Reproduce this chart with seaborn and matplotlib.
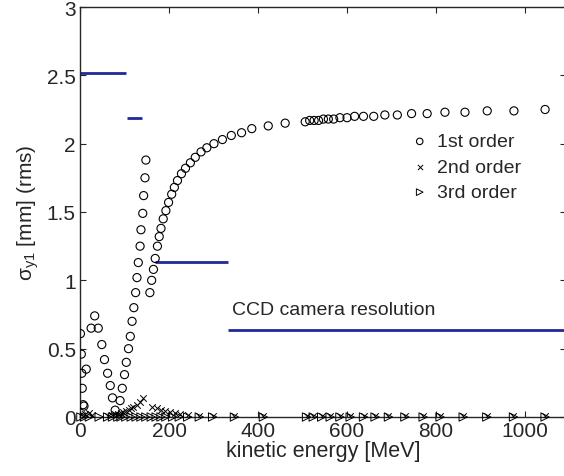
import numpy as np
import pandas as pd
import matplotlib
matplotlib.use("Agg")
import matplotlib.pyplot as plt
import seaborn as sns
from matplotlib.ticker import FormatStrFormatter

# ---------------- data ----------------
# 1st order
x1 = [1, 3, 4, 5, 7, 9, 14, 25, 33, 41, 49, 55, 62, 68, 73, 79,
      90, 95, 100, 104, 109, 113, 117, 121, 125, 128, 131, 135, 137, 141, 143, 146, 148,
      157, 161, 165, 169, 174, 178, 182, 187, 193, 199, 206, 212, 219, 228, 237, 248,
      259, 272, 285, 301, 320, 340, 363, 386, 423, 461,
      506, 516, 526, 536, 547, 558, 570, 584, 600, 617, 637, 660, 685, 713, 745,
      780, 820, 865, 915, 975, 1045]
y1 = [0.61, 0.46, 0.32, 0.21, 0.09, 0.08, 0.35, 0.65, 0.74, 0.65, 0.53, 0.42, 0.32, 0.23, 0.14, 0.05,
      0.12, 0.21, 0.31, 0.40, 0.50, 0.59, 0.70, 0.80, 0.91, 1.02, 1.13, 1.25, 1.37, 1.49, 1.62, 1.75, 1.88,
      0.91, 1.00, 1.08, 1.16, 1.25, 1.32, 1.38, 1.45, 1.51, 1.57, 1.63, 1.68, 1.73, 1.78, 1.82, 1.86,
      1.90, 1.94, 1.97, 2.00, 2.03, 2.06, 2.08, 2.11, 2.13, 2.15,
      2.16, 2.17, 2.17, 2.17, 2.18, 2.18, 2.18, 2.19, 2.19, 2.20, 2.20, 2.20, 2.21, 2.21, 2.22,
      2.22, 2.23, 2.23, 2.24, 2.24, 2.25]

# 3rd order (all on the axis)
x3 = [2, 10, 21, 43, 62, 73, 85, 92, 103, 115, 126, 137, 148, 160, 171, 182, 193,
      208, 223, 242, 268, 298, 347, 412, 509, 524, 543, 562, 584, 607, 637, 663,
      693, 730, 771, 809, 861, 914, 974, 1045]
y3 = [0.0] * len(x3)

# 2nd order
x2 = [3, 11, 21, 28, 62, 73, 79, 85, 92, 97, 103, 109, 115, 118, 127, 135, 142,
      161, 172, 181, 191, 202, 213, 225, 242, 268, 298, 347, 412,
      509, 524, 543, 562, 584, 607, 637, 663, 693, 730, 771, 809, 861, 914, 974, 1045]
y2 = [0.02, 0.02, 0.027, 0.015, 0.01, 0.015, 0.02, 0.025, 0.03, 0.034, 0.045, 0.053, 0.065, 0.071, 0.09, 0.107, 0.137,
      0.071, 0.064, 0.053, 0.046, 0.039, 0.03, 0.022, 0.015, 0.01, 0.008, 0.006, 0.005,
      0.004, 0.004, 0.004, 0.004, 0.004, 0.004, 0.004, 0.004, 0.004, 0.004, 0.004, 0.004, 0.004, 0.004, 0.004, 0.004]

# CCD camera resolution steps
res_y = [2.52, 2.19, 1.136, 0.636]
res_x0 = [0, 105, 169, 333]
res_x1 = [103, 139, 333, 1100]

# ---------------- plot ----------------
sns.set_style("ticks", {"xtick.direction": "in", "ytick.direction": "in"})
plt.rcParams["font.family"] = ["Liberation Sans", "DejaVu Sans"]

fig = plt.figure(figsize=(5.64, 4.77), dpi=100)
ax = fig.add_axes([80 / 564, 59 / 477, 486 / 564, 410 / 477])

ax.hlines(res_y, res_x0, res_x1, color="#23289a", linewidth=2.0, zorder=2)

sns.scatterplot(x=x1, y=y1, ax=ax, marker="o", s=34, facecolor="none",
                edgecolor="black", linewidth=0.8, label="1st order", zorder=3)
sns.scatterplot(x=x2, y=y2, ax=ax, marker="x", s=22, color="black",
                linewidth=0.7, label="2nd order", zorder=3)
sns.scatterplot(x=x3, y=y3, ax=ax, marker=">", s=36, facecolor="none",
                edgecolor="black", linewidth=0.7, label="3rd order", zorder=3, clip_on=False)

ax.text(342, 0.79, "CCD camera resolution", fontsize=14, va="center", ha="left")

ax.set_xlim(0, 1092)
ax.set_ylim(0, 3)
ax.set_xticks([0, 200, 400, 600, 800, 1000])
ax.set_yticks([0, 0.5, 1, 1.5, 2, 2.5, 3])
ax.yaxis.set_major_formatter(FormatStrFormatter("%g"))
ax.tick_params(axis="both", labelsize=15, length=4, width=0.8, top=True, right=True, pad=3)
for s in ax.spines.values():
    s.set_linewidth(1.0)

ax.set_xlabel("kinetic energy [MeV]", fontsize=15.5, labelpad=0)
ax.set_ylabel(r"σ$_{\mathregular{y1}}$ [mm] (rms)", fontsize=15, labelpad=4)

ax.legend(loc="upper left", bbox_to_anchor=((410 - 80) / 486, 0.693), frameon=False,
          fontsize=14, handlelength=1.0, handletextpad=0.4, borderpad=0, borderaxespad=0,
          labelspacing=0.4, markerscale=0.8)

fig.savefig("out.png", dpi=100)
